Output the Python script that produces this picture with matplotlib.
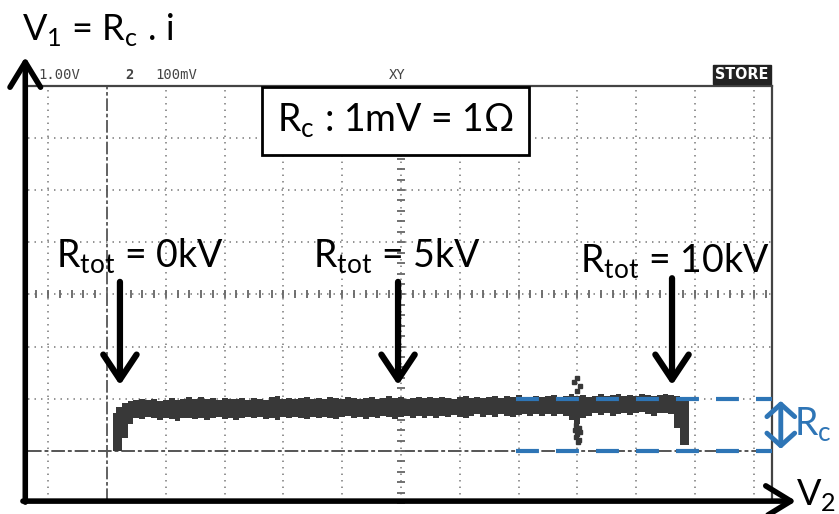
import numpy as np
import matplotlib
matplotlib.use("Agg")
import matplotlib.pyplot as plt

plt.rcParams['font.family'] = ['Lato', 'DejaVu Sans']

# ---------------- data (oscilloscope divisions) ----------------
trace_x = np.round(np.arange(1, 100) * 0.1, 2)   # 0.1 .. 9.9 div

trace_upper = [0.72, 0.85, 0.92, 0.95,
    0.97, 1.00, 0.98, 0.99, 0.96, 0.98, 1.01, 0.97, 0.99, 1.03,
    1.00, 1.04, 0.99, 1.01, 0.98, 1.02, 1.00, 0.99, 1.01, 0.98,
    1.02, 1.00, 0.97, 1.03, 1.05, 1.00, 1.02, 0.99, 1.01, 1.04,
    1.00, 1.02, 0.99, 1.03, 1.01, 1.00, 1.04, 1.01, 0.99, 1.02,
    1.03, 1.00, 1.02, 1.05, 1.01, 1.03, 1.00, 1.02, 1.04, 1.01,
    1.03, 1.01, 1.04, 1.02, 1.00, 1.03, 1.05, 1.02, 1.04, 1.01,
    1.04, 1.06, 1.02, 1.05, 1.03, 1.07, 1.04, 1.02, 1.06, 1.04,
    1.05, 1.08, 1.04, 1.06, 1.10, 1.05, 1.07, 1.04, 1.06, 1.09,
    1.05, 1.07, 1.10, 1.06, 1.08, 1.05, 1.09, 1.07, 1.05, 1.08,
    1.10, 1.07,
    1.06, 1.03, 1.00]

trace_lower = [0.00, 0.00, 0.25, 0.52,
    0.64, 0.62, 0.65, 0.63, 0.60, 0.64, 0.62, 0.57, 0.63, 0.64,
    0.62, 0.64, 0.60, 0.63, 0.65, 0.62, 0.64, 0.59, 0.63, 0.65,
    0.63, 0.66, 0.61, 0.64, 0.60, 0.65, 0.63, 0.66, 0.64, 0.61,
    0.65, 0.63, 0.66, 0.64, 0.61, 0.65, 0.67, 0.63, 0.66, 0.62,
    0.66, 0.63, 0.67, 0.65, 0.62, 0.66, 0.68, 0.64, 0.67, 0.63,
    0.67, 0.64, 0.68, 0.65, 0.69, 0.66, 0.64, 0.68, 0.70, 0.66,
    0.69, 0.66, 0.70, 0.67, 0.65, 0.69, 0.71, 0.67, 0.70, 0.68,
    0.71, 0.67, 0.70, 0.68, 0.60, 0.52, 0.64, 0.68, 0.72, 0.69,
    0.72, 0.68, 0.71, 0.73, 0.69, 0.72, 0.74, 0.70, 0.68, 0.72,
    0.73, 0.70,
    0.45, 0.12, 0.12]

spike_x = [7.98, 8.02, 7.96, 8.04, 8.00, 7.97, 8.03, 8.01, 7.99, 8.05, 7.95, 8.00]
spike_y = [0.50, 0.44, 0.40, 0.36, 0.32, 0.27, 0.22, 0.18, 1.15, 1.25, 1.33, 1.40]

rtot_labels = ["0kV", "5kV", "10kV"]
rtot_pos = [0.22, 4.95, 9.61]

rc_level_high = 1.0
rc_level_low = 0.0

# ---------------- figure ----------------
fig = plt.figure(figsize=(8.39, 5.14), dpi=100)
ax = fig.add_axes([0, 0, 1, 1])
ax.set_xlim(-1.82, 12.45)
ax.set_ylim(-1.207, 8.64)
ax.axis('off')

x_left, x_right = -1.35, 11.31
y_bot, y_top = -0.96, 7.0
grid_col = '#8a8a8a'
dot = (0, (0.8, 2.8))

# dotted grid
for gx in range(-1, 12):
    if gx == 0:
        continue
    ax.plot([gx, gx], [y_bot, y_top], color=grid_col, lw=1.3, ls=dot, zorder=1)
for gy in range(1, 7):
    ax.plot([x_left, x_right], [gy, gy], color=grid_col, lw=1.3, ls=dot, zorder=1)

# zero (dash-dot) lines
dd = (0, (7, 1.5, 2, 1.5))
ax.plot([0, 0], [y_bot, y_top], color='#555555', lw=1.3, ls=dd, zorder=1)
ax.plot([x_left, x_right], [0, 0], color='#555555', lw=1.4, ls=dd, zorder=1)

# centre graticule ticks
ty = np.arange(-1, 7.01, 0.2)
ax.plot(np.full_like(ty, 5.0), ty, ls='none', marker='_', ms=6, mew=1.3, color='#666666', zorder=1)
tx = np.arange(-1.2, 11.21, 0.2)
ax.plot(tx, np.full_like(tx, 3.0), ls='none', marker='|', ms=6, mew=1.3, color='#666666', zorder=1)

# scope border
ax.plot([x_left, x_right], [y_top, y_top], color='#444444', lw=1.6, zorder=2)
ax.plot([x_right, x_right], [y_bot, y_top], color='#444444', lw=1.6, zorder=2)

# scope labels
sfont = dict(family='DejaVu Sans Mono', color='#444444', fontsize=10, va='center')
ax.text(-1.17, 7.2, "1.00V", ha='left', **sfont)
ax.text(0.39, 7.2, "2", ha='center', fontweight='bold', **sfont)
ax.text(0.82, 7.2, "100mV", ha='left', **sfont)
ax.text(4.93, 7.2, "XY", ha='center', **sfont)
ax.text(10.8, 7.21, "STORE", ha='center', va='center', color='white', fontsize=11.5,
        fontweight='bold', family='DejaVu Sans', fontstretch='condensed',
        bbox=dict(boxstyle='square,pad=0.12', fc='#222222', ec='#222222'))

# trace
ax.fill_between(trace_x, trace_lower, trace_upper, step='mid', color='#383838', lw=0, zorder=3)
ax.plot(spike_x, spike_y, ls='none', marker='s', ms=2.5, color='#383838', zorder=3)

# axes arrows
ax.annotate("", xy=(-1.39, 7.55), xytext=(-1.39, -0.98),
            arrowprops=dict(arrowstyle='->,head_length=0.9,head_width=0.55', lw=4, color='black',
                            shrinkA=0, shrinkB=0, mutation_scale=20), zorder=6)
ax.annotate("", xy=(11.72, -0.96), xytext=(-1.43, -0.96),
            arrowprops=dict(arrowstyle='->,head_length=0.9,head_width=0.55', lw=4, color='black',
                            shrinkA=0, shrinkB=0, mutation_scale=20), zorder=6)

tfs = 27
ax.text(-1.45, 8.07, r"V$_\mathregular{1}$ = R$_\mathregular{c}$ . i", fontsize=26, ha='left', va='center')
ax.text(11.72, -0.84, r"V$_\mathregular{2}$", fontsize=26, ha='left', va='center')

# info box
ax.text(4.9, 6.32, r"R$_\mathregular{c}$ : 1mV = 1Ω", fontsize=tfs, ha='center', va='center', zorder=7,
        bbox=dict(boxstyle='square,pad=0.4', fc='white', ec='black', lw=2))

# R_tot annotations
lab_x = [0.56, 4.93, 9.66]
lab_y = [3.72, 3.72, 3.64]
start_y = [3.24, 3.24, 3.31]
for px, lx, ly, sy, lab in zip(rtot_pos, lab_x, lab_y, start_y, rtot_labels):
    ax.text(lx, ly, r"R$_\mathregular{tot}$ = " + lab, fontsize=tfs, ha='center', va='center', zorder=7)
    ax.annotate("", xy=(px, 1.26), xytext=(px, sy),
                arrowprops=dict(arrowstyle='->,head_length=0.9,head_width=0.6', lw=4.5, color='black',
                                shrinkA=0, shrinkB=0, mutation_scale=20), zorder=6)

# R_c blue markers
blue = '#2E75B6'
ax.plot([6.96, x_right], [rc_level_high, rc_level_high], color=blue, lw=3, ls=(0, (5.5, 4.1)), zorder=5)
ax.plot([6.96, x_right], [rc_level_low, rc_level_low], color=blue, lw=3, ls=(0, (5.5, 4.1)), zorder=5)
ax.annotate("", xy=(11.46, rc_level_high - 0.04), xytext=(11.46, rc_level_low + 0.04),
            arrowprops=dict(arrowstyle='<->,head_length=0.45,head_width=0.5', lw=3.5, color=blue,
                            shrinkA=0, shrinkB=0, mutation_scale=20), zorder=6)
ax.text(11.68, 0.5, r"R$_\mathregular{c}$", fontsize=tfs, color=blue, ha='left', va='center')

fig.savefig("out.png", dpi=100)
